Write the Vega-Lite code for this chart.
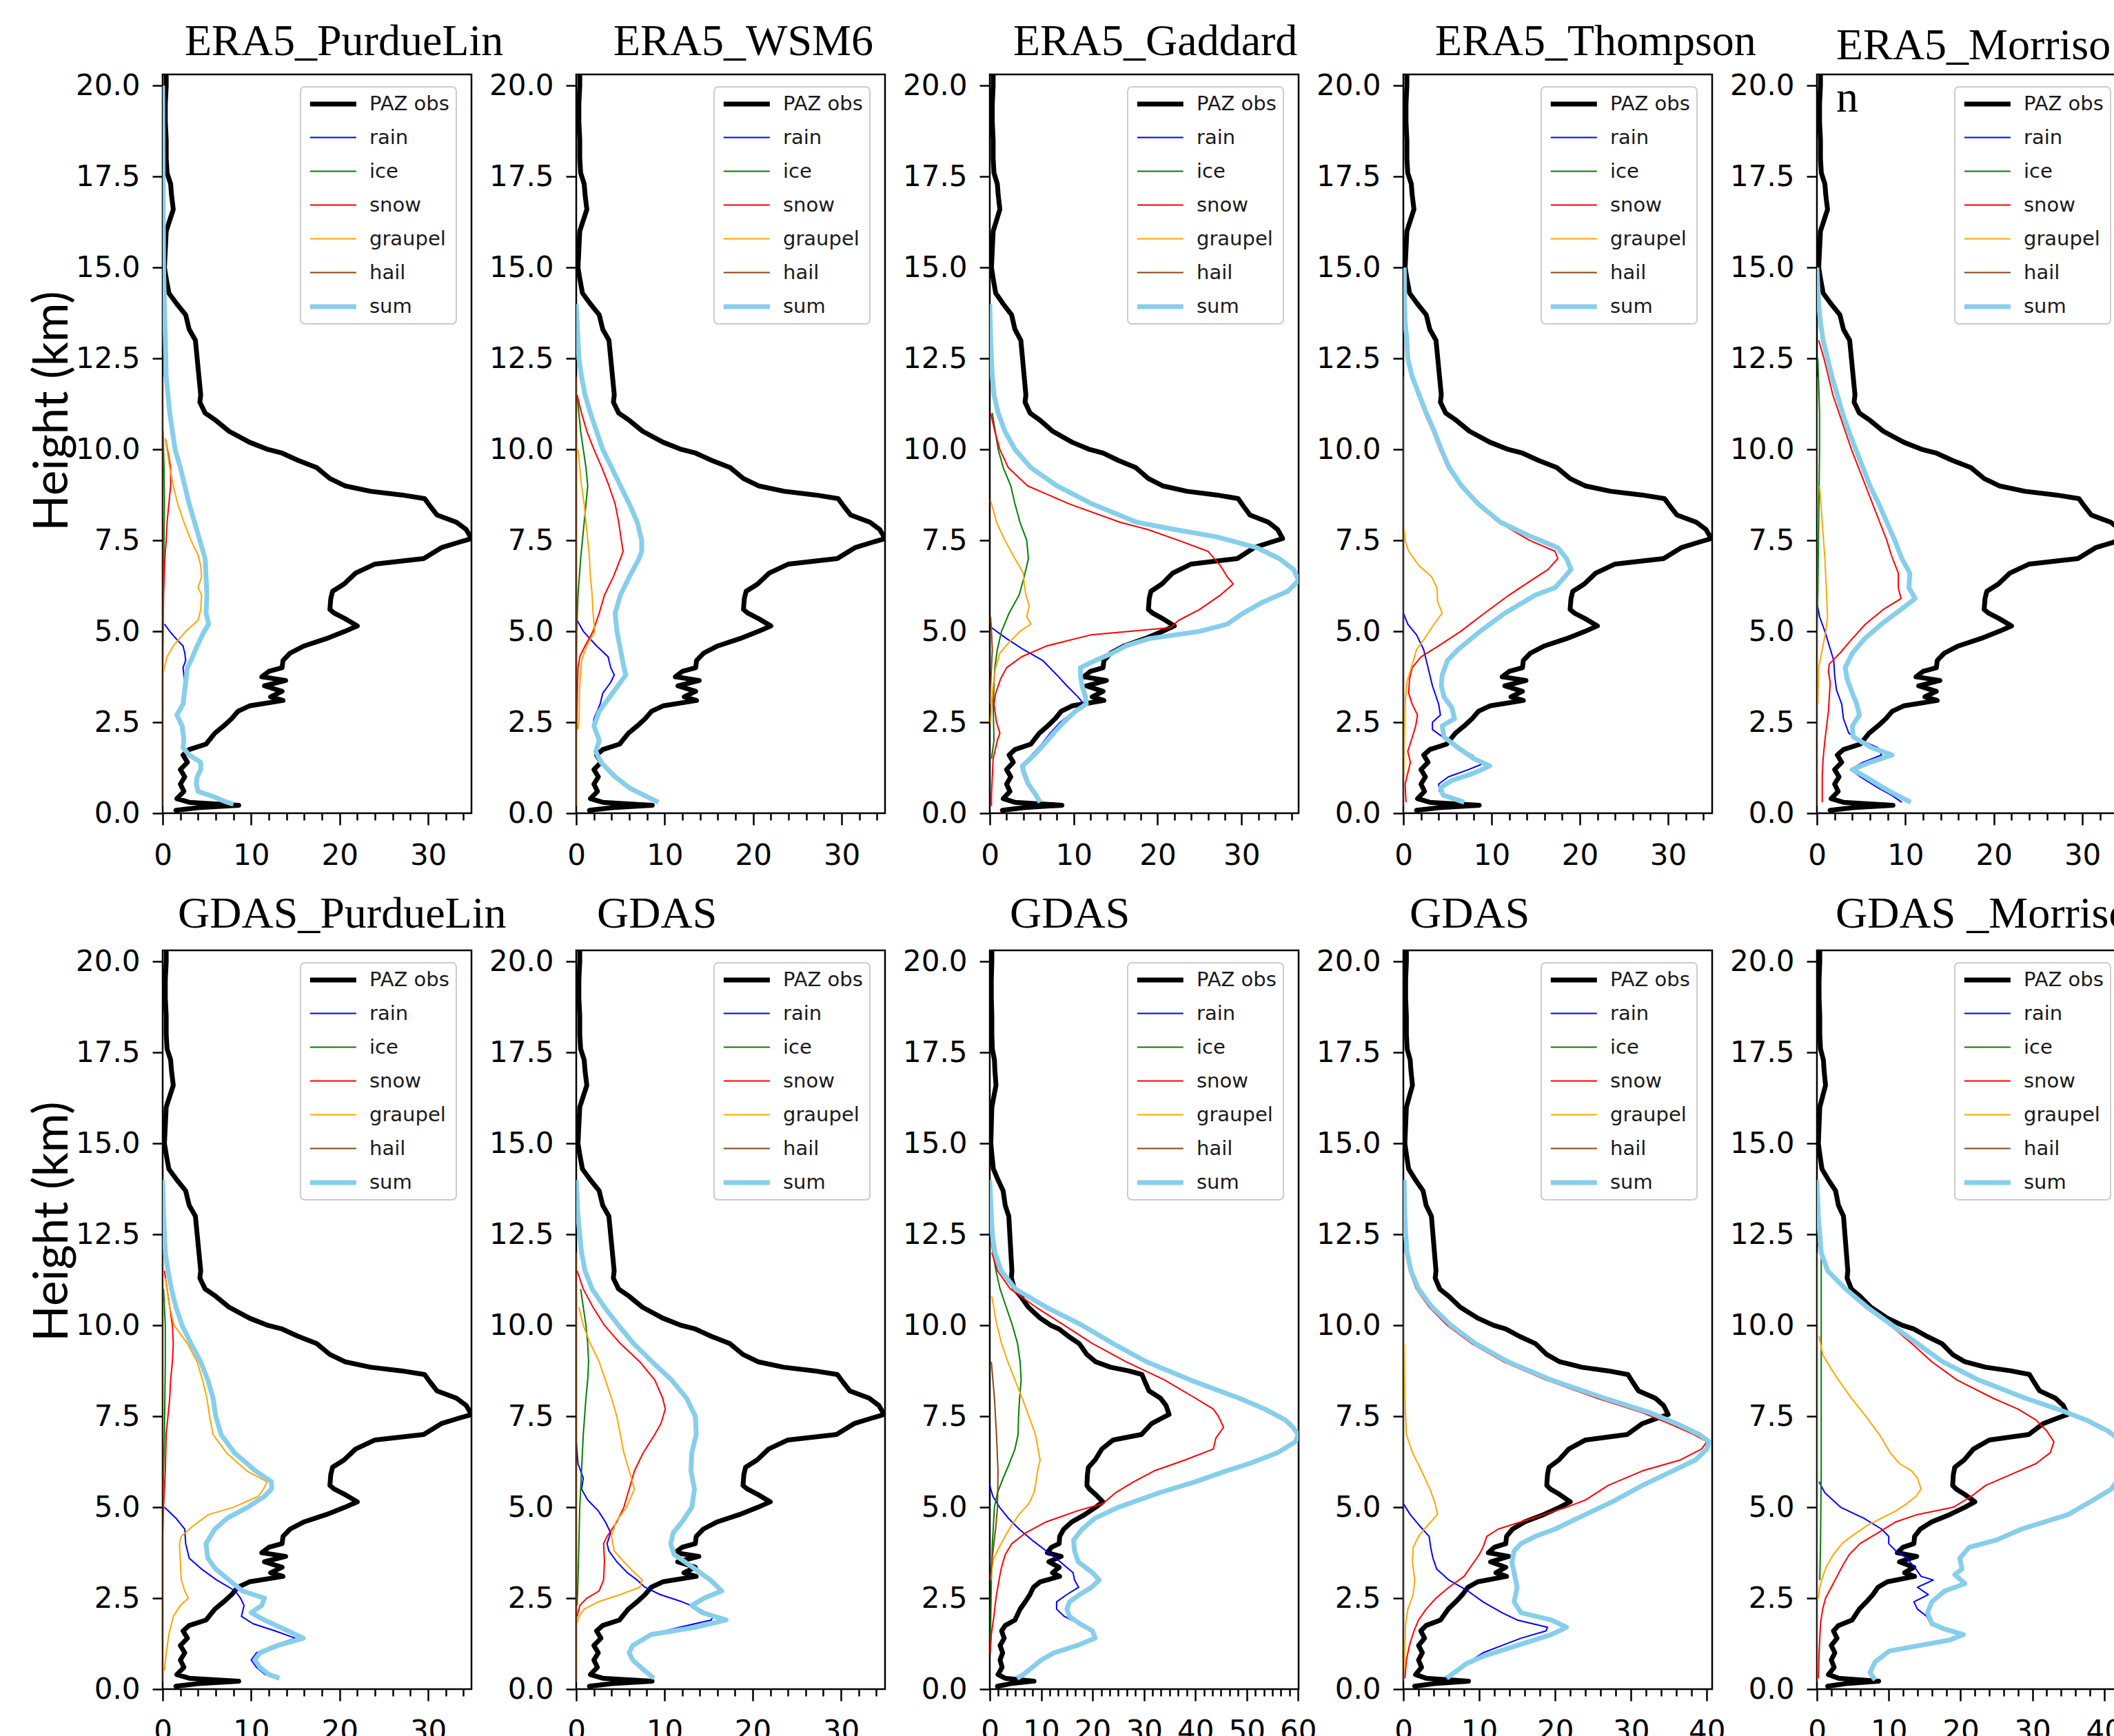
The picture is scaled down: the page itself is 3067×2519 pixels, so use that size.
{
"$schema": "https://vega.github.io/schema/vega-lite/v6.json",
"padding": {"left": 40, "top": 28, "right": 0, "bottom": 0},
"background": "white",
"datasets": {
"obs": [
{"s":"PAZ obs","h":20.3,"v":0.4},{"s":"PAZ obs","h":20.0,"v":0.4},{"s":"PAZ obs","h":19.5,"v":0.3},{"s":"PAZ obs","h":19.0,"v":0.3},{"s":"PAZ obs","h":18.5,"v":0.4},{"s":"PAZ obs","h":18.0,"v":0.4},{"s":"PAZ obs","h":17.6,"v":0.5},{"s":"PAZ obs","h":17.3,"v":0.9},{"s":"PAZ obs","h":17.0,"v":1.0},{"s":"PAZ obs","h":16.6,"v":1.2},{"s":"PAZ obs","h":16.3,"v":0.8},{"s":"PAZ obs","h":16.0,"v":0.4},{"s":"PAZ obs","h":15.5,"v":0.3},{"s":"PAZ obs","h":15.0,"v":0.2},{"s":"PAZ obs","h":14.7,"v":0.4},{"s":"PAZ obs","h":14.3,"v":0.7},{"s":"PAZ obs","h":14.0,"v":1.6},{"s":"PAZ obs","h":13.7,"v":2.6},{"s":"PAZ obs","h":13.3,"v":3.0},{"s":"PAZ obs","h":13.0,"v":3.7},{"s":"PAZ obs","h":12.5,"v":3.9},{"s":"PAZ obs","h":12.0,"v":4.1},{"s":"PAZ obs","h":11.5,"v":4.3},{"s":"PAZ obs","h":11.3,"v":4.2},{"s":"PAZ obs","h":11.0,"v":4.8},{"s":"PAZ obs","h":10.8,"v":6.0},{"s":"PAZ obs","h":10.5,"v":7.5},{"s":"PAZ obs","h":10.2,"v":9.8},{"s":"PAZ obs","h":10.0,"v":11.9},{"s":"PAZ obs","h":9.9,"v":13.5},{"s":"PAZ obs","h":9.7,"v":15.3},{"s":"PAZ obs","h":9.5,"v":17.4},{"s":"PAZ obs","h":9.2,"v":18.9},{"s":"PAZ obs","h":9.0,"v":20.6},{"s":"PAZ obs","h":8.85,"v":23.5},{"s":"PAZ obs","h":8.75,"v":27.0},{"s":"PAZ obs","h":8.65,"v":29.6},{"s":"PAZ obs","h":8.45,"v":30.2},{"s":"PAZ obs","h":8.2,"v":31.0},{"s":"PAZ obs","h":8.0,"v":33.2},{"s":"PAZ obs","h":7.8,"v":34.3},{"s":"PAZ obs","h":7.55,"v":34.9},{"s":"PAZ obs","h":7.45,"v":33.5},{"s":"PAZ obs","h":7.3,"v":31.5},{"s":"PAZ obs","h":7.0,"v":29.5},{"s":"PAZ obs","h":6.85,"v":24.0},{"s":"PAZ obs","h":6.6,"v":21.8},{"s":"PAZ obs","h":6.3,"v":20.5},{"s":"PAZ obs","h":6.1,"v":19.2},{"s":"PAZ obs","h":5.9,"v":19.0},{"s":"PAZ obs","h":5.6,"v":18.9},{"s":"PAZ obs","h":5.5,"v":19.4},{"s":"PAZ obs","h":5.35,"v":20.6},{"s":"PAZ obs","h":5.15,"v":22.0},{"s":"PAZ obs","h":5.0,"v":20.6},{"s":"PAZ obs","h":4.8,"v":18.5},{"s":"PAZ obs","h":4.6,"v":16.0},{"s":"PAZ obs","h":4.4,"v":14.4},{"s":"PAZ obs","h":4.2,"v":13.6},{"s":"PAZ obs","h":4.0,"v":13.5},{"s":"PAZ obs","h":3.9,"v":12.0},{"s":"PAZ obs","h":3.75,"v":11.2},{"s":"PAZ obs","h":3.65,"v":13.9},{"s":"PAZ obs","h":3.5,"v":11.5},{"s":"PAZ obs","h":3.35,"v":13.5},{"s":"PAZ obs","h":3.2,"v":12.2},{"s":"PAZ obs","h":3.1,"v":13.6},{"s":"PAZ obs","h":2.95,"v":9.8},{"s":"PAZ obs","h":2.8,"v":8.5},{"s":"PAZ obs","h":2.6,"v":7.8},{"s":"PAZ obs","h":2.4,"v":6.9},{"s":"PAZ obs","h":2.2,"v":5.9},{"s":"PAZ obs","h":1.9,"v":4.9},{"s":"PAZ obs","h":1.75,"v":3.0},{"s":"PAZ obs","h":1.6,"v":2.3},{"s":"PAZ obs","h":1.4,"v":2.8},{"s":"PAZ obs","h":1.2,"v":2.0},{"s":"PAZ obs","h":1.0,"v":2.5},{"s":"PAZ obs","h":0.8,"v":2.0},{"s":"PAZ obs","h":0.6,"v":2.4},{"s":"PAZ obs","h":0.4,"v":1.6},{"s":"PAZ obs","h":0.3,"v":3.0},{"s":"PAZ obs","h":0.22,"v":8.6},{"s":"PAZ obs","h":0.15,"v":4.0},{"s":"PAZ obs","h":0.08,"v":1.5},{"s":"PAZ obs","h":0.02,"v":1.8}
],
"e1": [
{"s":"rain","h":5.2,"v":0.2},{"s":"rain","h":5.0,"v":0.8},{"s":"rain","h":4.8,"v":1.5},{"s":"rain","h":4.6,"v":2.3},{"s":"rain","h":4.4,"v":2.5},{"s":"rain","h":4.2,"v":2.6},{"s":"rain","h":4.0,"v":2.3},{"s":"rain","h":3.6,"v":2.5},{"s":"rain","h":3.0,"v":2.2},{"s":"rain","h":2.7,"v":1.5},{"s":"rain","h":2.4,"v":2.1},{"s":"rain","h":2.0,"v":2.3},{"s":"rain","h":1.8,"v":2.2},{"s":"rain","h":1.6,"v":2.9},{"s":"rain","h":1.4,"v":4.2},{"s":"rain","h":1.2,"v":4.2},{"s":"rain","h":1.0,"v":3.8},{"s":"rain","h":0.8,"v":3.7},{"s":"rain","h":0.6,"v":3.9},{"s":"rain","h":0.45,"v":5.7},{"s":"rain","h":0.3,"v":7.2},{"s":"rain","h":0.25,"v":7.9},
{"s":"ice","h":10.5,"v":0.05},{"s":"ice","h":9.5,"v":0.15},{"s":"ice","h":8.5,"v":0.2},{"s":"ice","h":7.5,"v":0.15},{"s":"ice","h":6.5,"v":0.1},{"s":"ice","h":5.5,"v":0.05},{"s":"ice","h":4.5,"v":0},
{"s":"snow","h":10.3,"v":0.3},{"s":"snow","h":9.8,"v":0.7},{"s":"snow","h":9.5,"v":0.9},{"s":"snow","h":9.0,"v":0.9},{"s":"snow","h":8.5,"v":0.7},{"s":"snow","h":8.0,"v":0.5},{"s":"snow","h":7.5,"v":0.4},{"s":"snow","h":7.0,"v":0.25},{"s":"snow","h":6.0,"v":0.1},{"s":"snow","h":5.0,"v":0.05},{"s":"snow","h":4.0,"v":0},
{"s":"graupel","h":10.3,"v":0.3},{"s":"graupel","h":9.5,"v":0.8},{"s":"graupel","h":9.0,"v":1.2},{"s":"graupel","h":8.5,"v":1.7},{"s":"graupel","h":8.0,"v":2.4},{"s":"graupel","h":7.5,"v":3.2},{"s":"graupel","h":7.1,"v":4.0},{"s":"graupel","h":6.8,"v":4.3},{"s":"graupel","h":6.5,"v":4.4},{"s":"graupel","h":6.2,"v":4.0},{"s":"graupel","h":6.0,"v":4.4},{"s":"graupel","h":5.6,"v":4.3},{"s":"graupel","h":5.3,"v":4.0},{"s":"graupel","h":5.0,"v":2.6},{"s":"graupel","h":4.6,"v":1.2},{"s":"graupel","h":4.3,"v":0.5},{"s":"graupel","h":4.0,"v":0.2},{"s":"graupel","h":3.8,"v":0},
{"s":"hail","h":12,"v":0},{"s":"hail","h":0.2,"v":0},
{"s":"sum","h":20,"v":0},{"s":"sum","h":15,"v":0.1},{"s":"sum","h":13,"v":0.3},{"s":"sum","h":12,"v":0.4},{"s":"sum","h":11,"v":0.8},{"s":"sum","h":10,"v":1.4},{"s":"sum","h":9.5,"v":2.0},{"s":"sum","h":9.0,"v":2.5},{"s":"sum","h":8.5,"v":3.0},{"s":"sum","h":8.0,"v":3.6},{"s":"sum","h":7.5,"v":4.2},{"s":"sum","h":7.0,"v":4.8},{"s":"sum","h":6.5,"v":4.9},{"s":"sum","h":6.0,"v":5.0},{"s":"sum","h":5.5,"v":4.9},{"s":"sum","h":5.2,"v":5.2},{"s":"sum","h":5.0,"v":4.7},{"s":"sum","h":4.6,"v":3.9},{"s":"sum","h":4.2,"v":3.2},{"s":"sum","h":4.0,"v":2.8},{"s":"sum","h":3.6,"v":2.6},{"s":"sum","h":3.0,"v":2.3},{"s":"sum","h":2.7,"v":1.6},{"s":"sum","h":2.4,"v":2.2},{"s":"sum","h":2.0,"v":2.4},{"s":"sum","h":1.8,"v":2.3},{"s":"sum","h":1.6,"v":3.0},{"s":"sum","h":1.4,"v":4.3},{"s":"sum","h":1.2,"v":4.3},{"s":"sum","h":1.0,"v":3.9},{"s":"sum","h":0.8,"v":3.8},{"s":"sum","h":0.6,"v":4.0},{"s":"sum","h":0.45,"v":5.8},{"s":"sum","h":0.3,"v":7.3},{"s":"sum","h":0.25,"v":8.0}
],
"e2": [
{"s":"rain","h":5.3,"v":0.1},{"s":"rain","h":5.0,"v":0.8},{"s":"rain","h":4.6,"v":2.3},{"s":"rain","h":4.3,"v":3.6},{"s":"rain","h":4.0,"v":3.9},{"s":"rain","h":3.8,"v":4.3},{"s":"rain","h":3.6,"v":3.9},{"s":"rain","h":3.3,"v":3.0},{"s":"rain","h":3.0,"v":2.7},{"s":"rain","h":2.6,"v":2.0},{"s":"rain","h":2.4,"v":1.9},{"s":"rain","h":2.0,"v":2.5},{"s":"rain","h":1.7,"v":2.1},{"s":"rain","h":1.4,"v":2.7},{"s":"rain","h":1.0,"v":4.3},{"s":"rain","h":0.7,"v":5.9},{"s":"rain","h":0.5,"v":7.5},{"s":"rain","h":0.3,"v":9.2},
{"s":"ice","h":11.5,"v":0.1},{"s":"ice","h":10.5,"v":0.5},{"s":"ice","h":10.0,"v":0.8},{"s":"ice","h":9.5,"v":1.1},{"s":"ice","h":9.0,"v":1.3},{"s":"ice","h":8.5,"v":1.1},{"s":"ice","h":8.0,"v":0.9},{"s":"ice","h":7.5,"v":0.7},{"s":"ice","h":7.0,"v":0.5},{"s":"ice","h":6.0,"v":0.2},{"s":"ice","h":5.0,"v":0.05},{"s":"ice","h":4.0,"v":0},
{"s":"snow","h":11.5,"v":0.1},{"s":"snow","h":11.0,"v":0.6},{"s":"snow","h":10.5,"v":1.2},{"s":"snow","h":10.0,"v":2.0},{"s":"snow","h":9.5,"v":2.9},{"s":"snow","h":9.0,"v":3.7},{"s":"snow","h":8.5,"v":4.4},{"s":"snow","h":8.0,"v":4.8},{"s":"snow","h":7.5,"v":5.1},{"s":"snow","h":7.2,"v":5.3},{"s":"snow","h":7.0,"v":5.0},{"s":"snow","h":6.5,"v":4.2},{"s":"snow","h":6.0,"v":3.2},{"s":"snow","h":5.5,"v":2.6},{"s":"snow","h":5.0,"v":1.9},{"s":"snow","h":4.6,"v":1.0},{"s":"snow","h":4.3,"v":0.4},{"s":"snow","h":4.0,"v":0.2},{"s":"snow","h":3.0,"v":0.1},{"s":"snow","h":2.3,"v":0.05},
{"s":"graupel","h":10.0,"v":0.2},{"s":"graupel","h":9.5,"v":0.4},{"s":"graupel","h":9.0,"v":0.6},{"s":"graupel","h":8.5,"v":0.9},{"s":"graupel","h":8.0,"v":1.1},{"s":"graupel","h":7.5,"v":1.3},{"s":"graupel","h":7.0,"v":1.5},{"s":"graupel","h":6.5,"v":1.6},{"s":"graupel","h":6.0,"v":1.8},{"s":"graupel","h":5.5,"v":1.9},{"s":"graupel","h":5.0,"v":2.1},{"s":"graupel","h":4.6,"v":1.2},{"s":"graupel","h":4.2,"v":0.6},{"s":"graupel","h":3.5,"v":0.4},{"s":"graupel","h":3.0,"v":0.35},{"s":"graupel","h":2.5,"v":0.3},{"s":"graupel","h":2.3,"v":0.2},
{"s":"hail","h":12,"v":0},{"s":"hail","h":0.2,"v":0},
{"s":"sum","h":14,"v":0},{"s":"sum","h":13.5,"v":0.1},{"s":"sum","h":12.5,"v":0.3},{"s":"sum","h":12.0,"v":0.6},{"s":"sum","h":11.5,"v":1.0},{"s":"sum","h":11.0,"v":1.6},{"s":"sum","h":10.5,"v":2.3},{"s":"sum","h":10.0,"v":3.0},{"s":"sum","h":9.5,"v":4.0},{"s":"sum","h":9.0,"v":5.0},{"s":"sum","h":8.5,"v":6.0},{"s":"sum","h":8.0,"v":6.9},{"s":"sum","h":7.5,"v":7.4},{"s":"sum","h":7.2,"v":7.4},{"s":"sum","h":7.0,"v":7.1},{"s":"sum","h":6.5,"v":6.0},{"s":"sum","h":6.0,"v":5.0},{"s":"sum","h":5.5,"v":4.4},{"s":"sum","h":5.0,"v":4.6},{"s":"sum","h":4.5,"v":5.0},{"s":"sum","h":4.0,"v":5.4},{"s":"sum","h":3.8,"v":5.6},{"s":"sum","h":3.6,"v":5.0},{"s":"sum","h":3.2,"v":3.8},{"s":"sum","h":2.8,"v":2.6},{"s":"sum","h":2.4,"v":2.0},{"s":"sum","h":2.0,"v":2.6},{"s":"sum","h":1.7,"v":2.2},{"s":"sum","h":1.4,"v":2.8},{"s":"sum","h":1.0,"v":4.4},{"s":"sum","h":0.7,"v":6.0},{"s":"sum","h":0.5,"v":7.6},{"s":"sum","h":0.3,"v":9.3}
],
"e3": [
{"s":"rain","h":5.1,"v":0.2},{"s":"rain","h":4.8,"v":2.0},{"s":"rain","h":4.5,"v":4.0},{"s":"rain","h":4.2,"v":6.3},{"s":"rain","h":3.8,"v":8.0},{"s":"rain","h":3.5,"v":9.2},{"s":"rain","h":3.2,"v":10.5},{"s":"rain","h":3.0,"v":11.2},{"s":"rain","h":2.8,"v":10.0},{"s":"rain","h":2.5,"v":8.4},{"s":"rain","h":2.2,"v":7.2},{"s":"rain","h":1.9,"v":6.2},{"s":"rain","h":1.6,"v":5.0},{"s":"rain","h":1.3,"v":3.7},{"s":"rain","h":1.1,"v":3.9},{"s":"rain","h":0.8,"v":4.4},{"s":"rain","h":0.5,"v":5.3},{"s":"rain","h":0.3,"v":5.8},
{"s":"ice","h":11,"v":0.3},{"s":"ice","h":10,"v":1.0},{"s":"ice","h":9.5,"v":1.6},{"s":"ice","h":9.0,"v":2.5},{"s":"ice","h":8.5,"v":3.0},{"s":"ice","h":8.0,"v":3.6},{"s":"ice","h":7.5,"v":4.4},{"s":"ice","h":7.0,"v":4.6},{"s":"ice","h":6.5,"v":4.1},{"s":"ice","h":6.0,"v":3.5},{"s":"ice","h":5.5,"v":2.3},{"s":"ice","h":5.0,"v":1.4},{"s":"ice","h":4.5,"v":0.9},{"s":"ice","h":4.0,"v":0.6},{"s":"ice","h":3.0,"v":0.4},{"s":"ice","h":2.0,"v":0.5},{"s":"ice","h":1.5,"v":0.2},
{"s":"snow","h":11,"v":0.1},{"s":"snow","h":10.5,"v":0.6},{"s":"snow","h":10,"v":1.2},{"s":"snow","h":9.5,"v":2.2},{"s":"snow","h":9.0,"v":4.5},{"s":"snow","h":8.5,"v":9.5},{"s":"snow","h":8.0,"v":15.5},{"s":"snow","h":7.8,"v":18.8},{"s":"snow","h":7.5,"v":22.5},{"s":"snow","h":7.2,"v":26.0},{"s":"snow","h":6.8,"v":27.5},{"s":"snow","h":6.5,"v":28.3},{"s":"snow","h":6.3,"v":29.0},{"s":"snow","h":6.0,"v":27.5},{"s":"snow","h":5.6,"v":25.0},{"s":"snow","h":5.3,"v":22.5},{"s":"snow","h":5.1,"v":21.5},{"s":"snow","h":4.9,"v":12.0},{"s":"snow","h":4.6,"v":6.8},{"s":"snow","h":4.3,"v":3.8},{"s":"snow","h":4.0,"v":2.0},{"s":"snow","h":3.7,"v":1.3},{"s":"snow","h":3.3,"v":0.7},{"s":"snow","h":3.0,"v":0.5},{"s":"snow","h":2.5,"v":0.8},{"s":"snow","h":2.2,"v":1.2},{"s":"snow","h":2.0,"v":0.9},{"s":"snow","h":1.5,"v":0.4},{"s":"snow","h":0.5,"v":0.2},{"s":"snow","h":0.2,"v":0.2},
{"s":"graupel","h":8.6,"v":0.1},{"s":"graupel","h":8.0,"v":0.8},{"s":"graupel","h":7.5,"v":1.8},{"s":"graupel","h":7.0,"v":3.0},{"s":"graupel","h":6.6,"v":4.0},{"s":"graupel","h":6.3,"v":4.1},{"s":"graupel","h":6.0,"v":4.3},{"s":"graupel","h":5.7,"v":4.7},{"s":"graupel","h":5.4,"v":4.4},{"s":"graupel","h":5.2,"v":4.9},{"s":"graupel","h":5.0,"v":3.6},{"s":"graupel","h":4.7,"v":2.3},{"s":"graupel","h":4.4,"v":1.2},{"s":"graupel","h":4.0,"v":0.7},{"s":"graupel","h":3.5,"v":0.4},{"s":"graupel","h":3.0,"v":0.2},{"s":"graupel","h":2.5,"v":0.1},
{"s":"hail","h":5.4,"v":0.1},{"s":"hail","h":5.0,"v":0.2},{"s":"hail","h":4.5,"v":0.3},{"s":"hail","h":4.0,"v":0.2},{"s":"hail","h":3.5,"v":0.1},{"s":"hail","h":3.0,"v":0},
{"s":"sum","h":14,"v":0},{"s":"sum","h":13,"v":0.1},{"s":"sum","h":12,"v":0.3},{"s":"sum","h":11.5,"v":0.5},{"s":"sum","h":11,"v":1.0},{"s":"sum","h":10.5,"v":1.8},{"s":"sum","h":10,"v":3.0},{"s":"sum","h":9.5,"v":4.9},{"s":"sum","h":9.0,"v":8.0},{"s":"sum","h":8.5,"v":12.2},{"s":"sum","h":8.0,"v":17.5},{"s":"sum","h":7.8,"v":22.0},{"s":"sum","h":7.6,"v":27.0},{"s":"sum","h":7.3,"v":31.8},{"s":"sum","h":7.0,"v":34.5},{"s":"sum","h":6.7,"v":36.2},{"s":"sum","h":6.4,"v":36.8},{"s":"sum","h":6.1,"v":35.5},{"s":"sum","h":5.8,"v":32.5},{"s":"sum","h":5.5,"v":30.2},{"s":"sum","h":5.2,"v":28.3},{"s":"sum","h":5.0,"v":25.0},{"s":"sum","h":4.8,"v":19.0},{"s":"sum","h":4.6,"v":16.2},{"s":"sum","h":4.4,"v":14.6},{"s":"sum","h":4.2,"v":12.6},{"s":"sum","h":4.0,"v":10.8},{"s":"sum","h":3.8,"v":10.8},{"s":"sum","h":3.5,"v":11.0},{"s":"sum","h":3.2,"v":11.4},{"s":"sum","h":3.0,"v":11.5},{"s":"sum","h":2.8,"v":10.2},{"s":"sum","h":2.5,"v":8.8},{"s":"sum","h":2.2,"v":7.6},{"s":"sum","h":1.9,"v":6.5},{"s":"sum","h":1.6,"v":5.3},{"s":"sum","h":1.3,"v":3.9},{"s":"sum","h":1.1,"v":4.1},{"s":"sum","h":0.8,"v":4.6},{"s":"sum","h":0.5,"v":5.5},{"s":"sum","h":0.3,"v":6.0}
],
"e4": [
{"s":"rain","h":5.5,"v":0},{"s":"rain","h":5.2,"v":0.5},{"s":"rain","h":4.9,"v":1.5},{"s":"rain","h":4.5,"v":2.3},{"s":"rain","h":4.0,"v":2.8},{"s":"rain","h":3.5,"v":3.3},{"s":"rain","h":3.0,"v":4.0},{"s":"rain","h":2.7,"v":4.2},{"s":"rain","h":2.5,"v":3.3},{"s":"rain","h":2.3,"v":3.3},{"s":"rain","h":2.0,"v":5.0},{"s":"rain","h":1.8,"v":6.1},{"s":"rain","h":1.6,"v":7.8},{"s":"rain","h":1.35,"v":8.9},{"s":"rain","h":1.2,"v":7.4},{"s":"rain","h":1.0,"v":5.1},{"s":"rain","h":0.8,"v":4.0},{"s":"rain","h":0.6,"v":4.1},{"s":"rain","h":0.4,"v":5.4},{"s":"rain","h":0.3,"v":6.6},
{"s":"ice","h":12,"v":0},{"s":"ice","h":0.2,"v":0},
{"s":"snow","h":13.5,"v":0.1},{"s":"snow","h":13,"v":0.3},{"s":"snow","h":12.5,"v":0.4},{"s":"snow","h":12,"v":0.9},{"s":"snow","h":11.5,"v":1.6},{"s":"snow","h":11,"v":2.4},{"s":"snow","h":10.5,"v":3.3},{"s":"snow","h":10,"v":4.1},{"s":"snow","h":9.5,"v":5.0},{"s":"snow","h":9.0,"v":6.4},{"s":"snow","h":8.5,"v":8.3},{"s":"snow","h":8.0,"v":10.8},{"s":"snow","h":7.5,"v":14.3},{"s":"snow","h":7.2,"v":17.2},{"s":"snow","h":7.0,"v":17.5},{"s":"snow","h":6.7,"v":16.4},{"s":"snow","h":6.4,"v":14.5},{"s":"snow","h":6.0,"v":12.0},{"s":"snow","h":5.5,"v":9.2},{"s":"snow","h":5.0,"v":6.5},{"s":"snow","h":4.6,"v":4.0},{"s":"snow","h":4.3,"v":2.0},{"s":"snow","h":4.0,"v":1.0},{"s":"snow","h":3.7,"v":0.7},{"s":"snow","h":3.3,"v":0.6},{"s":"snow","h":3.0,"v":1.0},{"s":"snow","h":2.7,"v":1.6},{"s":"snow","h":2.4,"v":1.4},{"s":"snow","h":2.0,"v":0.9},{"s":"snow","h":1.7,"v":0.5},{"s":"snow","h":1.4,"v":0.8},{"s":"snow","h":1.2,"v":0.6},{"s":"snow","h":0.8,"v":0.2},{"s":"snow","h":0.3,"v":0.3},
{"s":"graupel","h":7.8,"v":0.1},{"s":"graupel","h":7.5,"v":0.2},{"s":"graupel","h":7.2,"v":0.6},{"s":"graupel","h":6.8,"v":1.8},{"s":"graupel","h":6.5,"v":3.2},{"s":"graupel","h":6.2,"v":3.8},{"s":"graupel","h":5.8,"v":3.9},{"s":"graupel","h":5.5,"v":4.4},{"s":"graupel","h":5.2,"v":3.5},{"s":"graupel","h":4.8,"v":2.4},{"s":"graupel","h":4.5,"v":1.5},{"s":"graupel","h":4.0,"v":0.9},{"s":"graupel","h":3.6,"v":0.4},{"s":"graupel","h":3.0,"v":0.2},{"s":"graupel","h":2.0,"v":0.1},{"s":"graupel","h":1.0,"v":0.05},
{"s":"hail","h":12,"v":0},{"s":"hail","h":0.2,"v":0},
{"s":"sum","h":15,"v":0.1},{"s":"sum","h":14,"v":0.15},{"s":"sum","h":13.5,"v":0.2},{"s":"sum","h":13,"v":0.4},{"s":"sum","h":12.5,"v":0.5},{"s":"sum","h":12,"v":1.0},{"s":"sum","h":11.5,"v":1.8},{"s":"sum","h":11,"v":2.6},{"s":"sum","h":10.5,"v":3.5},{"s":"sum","h":10,"v":4.3},{"s":"sum","h":9.5,"v":5.2},{"s":"sum","h":9.0,"v":6.6},{"s":"sum","h":8.5,"v":8.5},{"s":"sum","h":8.0,"v":11.0},{"s":"sum","h":7.6,"v":14.5},{"s":"sum","h":7.3,"v":17.5},{"s":"sum","h":7.0,"v":18.5},{"s":"sum","h":6.7,"v":19.0},{"s":"sum","h":6.5,"v":18.3},{"s":"sum","h":6.2,"v":17.2},{"s":"sum","h":6.0,"v":15.0},{"s":"sum","h":5.5,"v":11.5},{"s":"sum","h":5.0,"v":8.7},{"s":"sum","h":4.5,"v":6.2},{"s":"sum","h":4.2,"v":5.0},{"s":"sum","h":3.8,"v":4.4},{"s":"sum","h":3.5,"v":4.3},{"s":"sum","h":3.2,"v":4.6},{"s":"sum","h":2.9,"v":5.5},{"s":"sum","h":2.6,"v":5.8},{"s":"sum","h":2.4,"v":4.4},{"s":"sum","h":2.1,"v":4.6},{"s":"sum","h":1.8,"v":6.2},{"s":"sum","h":1.5,"v":8.0},{"s":"sum","h":1.3,"v":9.8},{"s":"sum","h":1.1,"v":8.0},{"s":"sum","h":0.9,"v":5.5},{"s":"sum","h":0.7,"v":4.2},{"s":"sum","h":0.5,"v":4.5},{"s":"sum","h":0.3,"v":6.9}
],
"e5": [
{"s":"rain","h":5.8,"v":0},{"s":"rain","h":5.4,"v":0.3},{"s":"rain","h":5.0,"v":0.9},{"s":"rain","h":4.6,"v":1.4},{"s":"rain","h":4.2,"v":1.9},{"s":"rain","h":3.8,"v":2.0},{"s":"rain","h":3.4,"v":2.2},{"s":"rain","h":3.0,"v":2.8},{"s":"rain","h":2.6,"v":3.0},{"s":"rain","h":2.2,"v":3.6},{"s":"rain","h":2.0,"v":5.0},{"s":"rain","h":1.8,"v":6.9},{"s":"rain","h":1.6,"v":7.3},{"s":"rain","h":1.4,"v":5.2},{"s":"rain","h":1.2,"v":3.8},{"s":"rain","h":1.0,"v":4.9},{"s":"rain","h":0.7,"v":6.9},{"s":"rain","h":0.5,"v":8.4},{"s":"rain","h":0.3,"v":9.6},
{"s":"ice","h":12.5,"v":0.1},{"s":"ice","h":11,"v":0.3},{"s":"ice","h":10,"v":0.3},{"s":"ice","h":8,"v":0.2},{"s":"ice","h":6,"v":0.1},{"s":"ice","h":5,"v":0},
{"s":"snow","h":13,"v":0.2},{"s":"snow","h":12.5,"v":0.8},{"s":"snow","h":12,"v":1.3},{"s":"snow","h":11.5,"v":1.8},{"s":"snow","h":11,"v":2.5},{"s":"snow","h":10.5,"v":3.2},{"s":"snow","h":10,"v":3.9},{"s":"snow","h":9.5,"v":4.7},{"s":"snow","h":9.0,"v":5.5},{"s":"snow","h":8.5,"v":6.3},{"s":"snow","h":8.0,"v":7.1},{"s":"snow","h":7.5,"v":7.9},{"s":"snow","h":7.1,"v":8.4},{"s":"snow","h":6.6,"v":9.2},{"s":"snow","h":6.2,"v":9.2},{"s":"snow","h":5.9,"v":9.5},{"s":"snow","h":5.6,"v":7.5},{"s":"snow","h":5.2,"v":5.5},{"s":"snow","h":4.8,"v":4.0},{"s":"snow","h":4.4,"v":2.6},{"s":"snow","h":4.1,"v":1.4},{"s":"snow","h":3.9,"v":1.3},{"s":"snow","h":3.6,"v":1.5},{"s":"snow","h":3.2,"v":1.4},{"s":"snow","h":2.8,"v":1.3},{"s":"snow","h":2.4,"v":1.1},{"s":"snow","h":2.0,"v":0.9},{"s":"snow","h":1.5,"v":0.7},{"s":"snow","h":1.0,"v":0.6},{"s":"snow","h":0.3,"v":0.6},
{"s":"graupel","h":9,"v":0.3},{"s":"graupel","h":8,"v":0.6},{"s":"graupel","h":7,"v":0.9},{"s":"graupel","h":6,"v":1.1},{"s":"graupel","h":5.4,"v":1.2},{"s":"graupel","h":5.0,"v":1.0},{"s":"graupel","h":4.5,"v":0.6},{"s":"graupel","h":4.0,"v":0.2},{"s":"graupel","h":3.0,"v":0.1},
{"s":"hail","h":12,"v":0},{"s":"hail","h":0.2,"v":0},
{"s":"sum","h":15,"v":0},{"s":"sum","h":14,"v":0.2},{"s":"sum","h":13.5,"v":0.4},{"s":"sum","h":13,"v":0.7},{"s":"sum","h":12.5,"v":1.2},{"s":"sum","h":12,"v":1.7},{"s":"sum","h":11.5,"v":2.3},{"s":"sum","h":11,"v":2.9},{"s":"sum","h":10.5,"v":3.6},{"s":"sum","h":10,"v":4.4},{"s":"sum","h":9.5,"v":5.2},{"s":"sum","h":9.0,"v":6.0},{"s":"sum","h":8.5,"v":7.0},{"s":"sum","h":8.0,"v":7.9},{"s":"sum","h":7.5,"v":8.8},{"s":"sum","h":7.0,"v":9.6},{"s":"sum","h":6.6,"v":10.5},{"s":"sum","h":6.2,"v":10.4},{"s":"sum","h":5.9,"v":11.1},{"s":"sum","h":5.6,"v":9.5},{"s":"sum","h":5.2,"v":7.3},{"s":"sum","h":4.8,"v":5.4},{"s":"sum","h":4.4,"v":4.0},{"s":"sum","h":4.0,"v":3.2},{"s":"sum","h":3.7,"v":3.4},{"s":"sum","h":3.3,"v":4.0},{"s":"sum","h":3.0,"v":4.5},{"s":"sum","h":2.7,"v":4.8},{"s":"sum","h":2.4,"v":4.0},{"s":"sum","h":2.1,"v":4.1},{"s":"sum","h":1.8,"v":6.2},{"s":"sum","h":1.6,"v":8.5},{"s":"sum","h":1.4,"v":6.0},{"s":"sum","h":1.2,"v":4.0},{"s":"sum","h":1.0,"v":5.5},{"s":"sum","h":0.7,"v":7.5},{"s":"sum","h":0.5,"v":9.0},{"s":"sum","h":0.3,"v":10.6}
],
"g1": [
{"s":"rain","h":5.0,"v":0.2},{"s":"rain","h":4.7,"v":1.5},{"s":"rain","h":4.4,"v":2.5},{"s":"rain","h":4.0,"v":2.6},{"s":"rain","h":3.6,"v":3.0},{"s":"rain","h":3.3,"v":4.4},{"s":"rain","h":3.0,"v":6.1},{"s":"rain","h":2.7,"v":8.2},{"s":"rain","h":2.5,"v":8.8},{"s":"rain","h":2.3,"v":9.2},{"s":"rain","h":2.0,"v":8.9},{"s":"rain","h":1.8,"v":10.2},{"s":"rain","h":1.6,"v":12.7},{"s":"rain","h":1.4,"v":15.0},{"s":"rain","h":1.2,"v":12.5},{"s":"rain","h":1.0,"v":10.6},{"s":"rain","h":0.8,"v":10.0},{"s":"rain","h":0.6,"v":10.6},{"s":"rain","h":0.4,"v":11.6},{"s":"rain","h":0.3,"v":12.8},
{"s":"ice","h":11,"v":0.1},{"s":"ice","h":10,"v":0.3},{"s":"ice","h":9,"v":0.3},{"s":"ice","h":7,"v":0.2},{"s":"ice","h":6,"v":0.1},{"s":"ice","h":5,"v":0},
{"s":"snow","h":11.5,"v":0.2},{"s":"snow","h":11,"v":0.5},{"s":"snow","h":10.5,"v":0.8},{"s":"snow","h":10,"v":1.1},{"s":"snow","h":9.5,"v":1.2},{"s":"snow","h":9,"v":1.1},{"s":"snow","h":8.5,"v":0.9},{"s":"snow","h":8,"v":0.8},{"s":"snow","h":7.5,"v":0.6},{"s":"snow","h":7,"v":0.4},{"s":"snow","h":6,"v":0.3},{"s":"snow","h":5,"v":0.1},{"s":"snow","h":4.2,"v":0},
{"s":"graupel","h":11.3,"v":0.3},{"s":"graupel","h":10.5,"v":0.8},{"s":"graupel","h":10,"v":1.3},{"s":"graupel","h":9.5,"v":2.8},{"s":"graupel","h":9,"v":3.9},{"s":"graupel","h":8.5,"v":4.5},{"s":"graupel","h":8,"v":5.0},{"s":"graupel","h":7.5,"v":5.3},{"s":"graupel","h":7,"v":5.7},{"s":"graupel","h":6.5,"v":7.2},{"s":"graupel","h":6,"v":9.5},{"s":"graupel","h":5.7,"v":11.8},{"s":"graupel","h":5.5,"v":11.4},{"s":"graupel","h":5.3,"v":10.8},{"s":"graupel","h":5.0,"v":8.0},{"s":"graupel","h":4.8,"v":5.2},{"s":"graupel","h":4.5,"v":3.5},{"s":"graupel","h":4.2,"v":2.1},{"s":"graupel","h":4.0,"v":1.9},{"s":"graupel","h":3.5,"v":2.0},{"s":"graupel","h":3.0,"v":2.1},{"s":"graupel","h":2.7,"v":2.5},{"s":"graupel","h":2.5,"v":2.9},{"s":"graupel","h":2.3,"v":2.0},{"s":"graupel","h":2.0,"v":1.2},{"s":"graupel","h":1.5,"v":0.7},{"s":"graupel","h":1.0,"v":0.4},{"s":"graupel","h":0.5,"v":0.2},
{"s":"hail","h":12,"v":0},{"s":"hail","h":0.2,"v":0},
{"s":"sum","h":14,"v":0},{"s":"sum","h":13,"v":0.1},{"s":"sum","h":12,"v":0.3},{"s":"sum","h":11.5,"v":0.6},{"s":"sum","h":11,"v":1.0},{"s":"sum","h":10.5,"v":1.5},{"s":"sum","h":10,"v":2.2},{"s":"sum","h":9.5,"v":3.2},{"s":"sum","h":9,"v":4.3},{"s":"sum","h":8.5,"v":5.1},{"s":"sum","h":8,"v":5.7},{"s":"sum","h":7.5,"v":6.0},{"s":"sum","h":7,"v":6.6},{"s":"sum","h":6.5,"v":8.1},{"s":"sum","h":6,"v":10.5},{"s":"sum","h":5.7,"v":12.3},{"s":"sum","h":5.5,"v":12.3},{"s":"sum","h":5.3,"v":11.5},{"s":"sum","h":5.0,"v":9.6},{"s":"sum","h":4.7,"v":7.3},{"s":"sum","h":4.4,"v":5.9},{"s":"sum","h":4.0,"v":4.9},{"s":"sum","h":3.6,"v":5.1},{"s":"sum","h":3.3,"v":6.0},{"s":"sum","h":3.0,"v":7.5},{"s":"sum","h":2.7,"v":9.0},{"s":"sum","h":2.5,"v":11.5},{"s":"sum","h":2.3,"v":11.2},{"s":"sum","h":2.1,"v":10.0},{"s":"sum","h":1.9,"v":11.5},{"s":"sum","h":1.6,"v":14.2},{"s":"sum","h":1.4,"v":15.9},{"s":"sum","h":1.2,"v":13.0},{"s":"sum","h":1.0,"v":11.0},{"s":"sum","h":0.8,"v":10.4},{"s":"sum","h":0.6,"v":11.0},{"s":"sum","h":0.4,"v":12.0},{"s":"sum","h":0.3,"v":13.2}
],
"g2": [
{"s":"rain","h":6.8,"v":0},{"s":"rain","h":6.2,"v":0.2},{"s":"rain","h":5.8,"v":0.8},{"s":"rain","h":5.5,"v":0.6},{"s":"rain","h":5.2,"v":1.3},{"s":"rain","h":4.9,"v":2.5},{"s":"rain","h":4.6,"v":3.3},{"s":"rain","h":4.3,"v":3.9},{"s":"rain","h":4.0,"v":3.5},{"s":"rain","h":3.8,"v":3.7},{"s":"rain","h":3.5,"v":4.6},{"s":"rain","h":3.2,"v":5.8},{"s":"rain","h":3.0,"v":6.9},{"s":"rain","h":2.8,"v":7.8},{"s":"rain","h":2.6,"v":9.5},{"s":"rain","h":2.4,"v":12.0},{"s":"rain","h":2.2,"v":14.0},{"s":"rain","h":2.0,"v":15.5},{"s":"rain","h":1.9,"v":15.3},{"s":"rain","h":1.7,"v":11.7},{"s":"rain","h":1.5,"v":8.3},{"s":"rain","h":1.2,"v":6.3},{"s":"rain","h":1.0,"v":5.9},{"s":"rain","h":0.8,"v":6.3},{"s":"rain","h":0.5,"v":7.7},{"s":"rain","h":0.3,"v":8.7},
{"s":"ice","h":11,"v":0.5},{"s":"ice","h":10,"v":1.1},{"s":"ice","h":9.5,"v":1.3},{"s":"ice","h":9,"v":1.4},{"s":"ice","h":8.5,"v":1.3},{"s":"ice","h":8,"v":1.1},{"s":"ice","h":7,"v":0.8},{"s":"ice","h":6,"v":0.6},{"s":"ice","h":5,"v":0.4},{"s":"ice","h":4,"v":0.3},{"s":"ice","h":3,"v":0.2},{"s":"ice","h":2.3,"v":0.1},
{"s":"snow","h":11.5,"v":0.1},{"s":"snow","h":11,"v":0.8},{"s":"snow","h":10.5,"v":1.9},{"s":"snow","h":10,"v":3.2},{"s":"snow","h":9.5,"v":5.0},{"s":"snow","h":9,"v":7.2},{"s":"snow","h":8.5,"v":8.9},{"s":"snow","h":8,"v":9.8},{"s":"snow","h":7.7,"v":10.1},{"s":"snow","h":7.3,"v":9.6},{"s":"snow","h":7,"v":8.9},{"s":"snow","h":6.5,"v":7.6},{"s":"snow","h":6,"v":6.6},{"s":"snow","h":5.5,"v":6.0},{"s":"snow","h":5.0,"v":5.4},{"s":"snow","h":4.6,"v":4.6},{"s":"snow","h":4.2,"v":3.5},{"s":"snow","h":4.0,"v":3.1},{"s":"snow","h":3.5,"v":3.2},{"s":"snow","h":3.0,"v":3.1},{"s":"snow","h":2.7,"v":2.6},{"s":"snow","h":2.5,"v":1.2},{"s":"snow","h":2.3,"v":0.4},{"s":"snow","h":2.0,"v":0.1},
{"s":"graupel","h":10.5,"v":0.3},{"s":"graupel","h":10,"v":0.8},{"s":"graupel","h":9.5,"v":1.6},{"s":"graupel","h":9,"v":2.6},{"s":"graupel","h":8.5,"v":3.3},{"s":"graupel","h":8,"v":4.0},{"s":"graupel","h":7.5,"v":4.6},{"s":"graupel","h":7,"v":5.0},{"s":"graupel","h":6.5,"v":5.4},{"s":"graupel","h":6,"v":6.0},{"s":"graupel","h":5.5,"v":6.6},{"s":"graupel","h":5,"v":5.7},{"s":"graupel","h":4.6,"v":4.5},{"s":"graupel","h":4.2,"v":4.0},{"s":"graupel","h":3.8,"v":4.3},{"s":"graupel","h":3.5,"v":5.4},{"s":"graupel","h":3.2,"v":6.6},{"s":"graupel","h":3.0,"v":7.5},{"s":"graupel","h":2.8,"v":7.2},{"s":"graupel","h":2.6,"v":5.0},{"s":"graupel","h":2.4,"v":2.5},{"s":"graupel","h":2.2,"v":0.9},{"s":"graupel","h":2.0,"v":0.3},{"s":"graupel","h":1.8,"v":0.1},
{"s":"hail","h":12,"v":0},{"s":"hail","h":0.2,"v":0},
{"s":"sum","h":14,"v":0},{"s":"sum","h":13,"v":0.2},{"s":"sum","h":12.5,"v":0.4},{"s":"sum","h":12,"v":0.6},{"s":"sum","h":11.5,"v":1.0},{"s":"sum","h":11,"v":1.8},{"s":"sum","h":10.5,"v":3.2},{"s":"sum","h":10,"v":4.8},{"s":"sum","h":9.5,"v":6.5},{"s":"sum","h":9,"v":8.6},{"s":"sum","h":8.5,"v":10.8},{"s":"sum","h":8,"v":12.5},{"s":"sum","h":7.5,"v":13.5},{"s":"sum","h":7,"v":13.6},{"s":"sum","h":6.5,"v":13.1},{"s":"sum","h":6,"v":13.0},{"s":"sum","h":5.5,"v":13.4},{"s":"sum","h":5,"v":13.1},{"s":"sum","h":4.6,"v":12.0},{"s":"sum","h":4.3,"v":11.0},{"s":"sum","h":4.0,"v":10.7},{"s":"sum","h":3.7,"v":11.1},{"s":"sum","h":3.3,"v":13.5},{"s":"sum","h":3.0,"v":15.2},{"s":"sum","h":2.7,"v":16.5},{"s":"sum","h":2.5,"v":14.5},{"s":"sum","h":2.3,"v":13.1},{"s":"sum","h":2.1,"v":14.3},{"s":"sum","h":1.9,"v":17.0},{"s":"sum","h":1.7,"v":13.5},{"s":"sum","h":1.5,"v":8.5},{"s":"sum","h":1.2,"v":6.4},{"s":"sum","h":1.0,"v":6.0},{"s":"sum","h":0.8,"v":6.4},{"s":"sum","h":0.5,"v":7.8},{"s":"sum","h":0.3,"v":8.8}
],
"g3": [
{"s":"rain","h":5.6,"v":0},{"s":"rain","h":5.3,"v":0.6},{"s":"rain","h":5.0,"v":1.9},{"s":"rain","h":4.7,"v":3.6},{"s":"rain","h":4.4,"v":5.7},{"s":"rain","h":4.1,"v":8.2},{"s":"rain","h":3.8,"v":11.0},{"s":"rain","h":3.5,"v":13.7},{"s":"rain","h":3.2,"v":16.2},{"s":"rain","h":3.0,"v":16.5},{"s":"rain","h":2.8,"v":17.3},{"s":"rain","h":2.6,"v":15.0},{"s":"rain","h":2.4,"v":13.0},{"s":"rain","h":2.2,"v":13.0},{"s":"rain","h":2.0,"v":14.5},{"s":"rain","h":1.8,"v":17.3},{"s":"rain","h":1.6,"v":19.8},{"s":"rain","h":1.4,"v":20.3},{"s":"rain","h":1.2,"v":16.8},{"s":"rain","h":1.0,"v":12.3},{"s":"rain","h":0.8,"v":9.8},{"s":"rain","h":0.6,"v":8.1},{"s":"rain","h":0.4,"v":6.3},{"s":"rain","h":0.3,"v":5.1},
{"s":"ice","h":12.3,"v":0.3},{"s":"ice","h":12,"v":0.6},{"s":"ice","h":11.5,"v":1.2},{"s":"ice","h":11,"v":2.0},{"s":"ice","h":10.5,"v":3.2},{"s":"ice","h":10,"v":4.4},{"s":"ice","h":9.5,"v":5.4},{"s":"ice","h":9,"v":5.9},{"s":"ice","h":8.5,"v":6.1},{"s":"ice","h":8,"v":5.8},{"s":"ice","h":7.5,"v":5.6},{"s":"ice","h":7,"v":5.5},{"s":"ice","h":6.6,"v":4.9},{"s":"ice","h":6.2,"v":3.8},{"s":"ice","h":5.8,"v":2.6},{"s":"ice","h":5.4,"v":1.5},{"s":"ice","h":5.0,"v":0.9},{"s":"ice","h":4.5,"v":0.7},{"s":"ice","h":4.0,"v":0.5},{"s":"ice","h":3.0,"v":0.3},{"s":"ice","h":2.0,"v":0.2},{"s":"ice","h":1.0,"v":0.1},
{"s":"snow","h":12,"v":0.4},{"s":"snow","h":11.5,"v":1.5},{"s":"snow","h":11,"v":4.0},{"s":"snow","h":10.5,"v":9.0},{"s":"snow","h":10,"v":14.5},{"s":"snow","h":9.5,"v":20.0},{"s":"snow","h":9,"v":26.5},{"s":"snow","h":8.5,"v":34.0},{"s":"snow","h":8,"v":40.0},{"s":"snow","h":7.7,"v":43.5},{"s":"snow","h":7.5,"v":44.5},{"s":"snow","h":7.2,"v":45.5},{"s":"snow","h":6.9,"v":44.0},{"s":"snow","h":6.6,"v":43.5},{"s":"snow","h":6.3,"v":38.0},{"s":"snow","h":6.0,"v":32.0},{"s":"snow","h":5.7,"v":28.0},{"s":"snow","h":5.4,"v":24.5},{"s":"snow","h":5.1,"v":22.0},{"s":"snow","h":4.9,"v":17.0},{"s":"snow","h":4.6,"v":11.0},{"s":"snow","h":4.3,"v":7.0},{"s":"snow","h":4.0,"v":4.3},{"s":"snow","h":3.7,"v":3.0},{"s":"snow","h":3.3,"v":2.2},{"s":"snow","h":3.0,"v":1.8},{"s":"snow","h":2.5,"v":1.2},{"s":"snow","h":2.0,"v":0.8},{"s":"snow","h":1.5,"v":0.3},{"s":"snow","h":1.0,"v":0.1},
{"s":"graupel","h":10.8,"v":0.4},{"s":"graupel","h":10.3,"v":1.0},{"s":"graupel","h":10,"v":1.4},{"s":"graupel","h":9.5,"v":2.3},{"s":"graupel","h":9,"v":3.5},{"s":"graupel","h":8.5,"v":4.9},{"s":"graupel","h":8,"v":6.3},{"s":"graupel","h":7.5,"v":7.6},{"s":"graupel","h":7,"v":8.9},{"s":"graupel","h":6.6,"v":9.4},{"s":"graupel","h":6.3,"v":9.8},{"s":"graupel","h":6.0,"v":9.3},{"s":"graupel","h":5.7,"v":9.0},{"s":"graupel","h":5.4,"v":8.6},{"s":"graupel","h":5.1,"v":7.6},{"s":"graupel","h":4.8,"v":5.7},{"s":"graupel","h":4.5,"v":4.2},{"s":"graupel","h":4.2,"v":3.0},{"s":"graupel","h":3.9,"v":1.8},{"s":"graupel","h":3.6,"v":0.8},{"s":"graupel","h":3.3,"v":0.4},{"s":"graupel","h":3.0,"v":0.2},
{"s":"hail","h":9,"v":0.3},{"s":"hail","h":8.5,"v":0.6},{"s":"hail","h":8,"v":0.9},{"s":"hail","h":7,"v":1.3},{"s":"hail","h":6,"v":1.6},{"s":"hail","h":5,"v":1.5},{"s":"hail","h":4.5,"v":1.2},{"s":"hail","h":4,"v":0.8},{"s":"hail","h":3.5,"v":0.4},{"s":"hail","h":3,"v":0.1},
{"s":"sum","h":14,"v":0},{"s":"sum","h":13,"v":0.3},{"s":"sum","h":12.5,"v":0.5},{"s":"sum","h":12,"v":1.0},{"s":"sum","h":11.5,"v":2.2},{"s":"sum","h":11,"v":5.0},{"s":"sum","h":10.5,"v":11.0},{"s":"sum","h":10,"v":18.0},{"s":"sum","h":9.5,"v":24.0},{"s":"sum","h":9,"v":30.5},{"s":"sum","h":8.5,"v":39.0},{"s":"sum","h":8,"v":48.5},{"s":"sum","h":7.7,"v":53.5},{"s":"sum","h":7.4,"v":57.5},{"s":"sum","h":7.2,"v":59.0},{"s":"sum","h":7.0,"v":60.0},{"s":"sum","h":6.8,"v":59.5},{"s":"sum","h":6.5,"v":56.0},{"s":"sum","h":6.2,"v":50.5},{"s":"sum","h":6.0,"v":46.0},{"s":"sum","h":5.7,"v":40.0},{"s":"sum","h":5.4,"v":33.0},{"s":"sum","h":5.0,"v":25.0},{"s":"sum","h":4.7,"v":20.5},{"s":"sum","h":4.4,"v":18.0},{"s":"sum","h":4.1,"v":16.3},{"s":"sum","h":3.8,"v":16.5},{"s":"sum","h":3.5,"v":17.2},{"s":"sum","h":3.2,"v":20.0},{"s":"sum","h":3.0,"v":21.3},{"s":"sum","h":2.8,"v":19.8},{"s":"sum","h":2.6,"v":17.5},{"s":"sum","h":2.4,"v":15.5},{"s":"sum","h":2.2,"v":15.0},{"s":"sum","h":2.0,"v":15.5},{"s":"sum","h":1.8,"v":17.5},{"s":"sum","h":1.6,"v":20.0},{"s":"sum","h":1.4,"v":20.5},{"s":"sum","h":1.2,"v":17.0},{"s":"sum","h":1.0,"v":12.5},{"s":"sum","h":0.8,"v":10.0},{"s":"sum","h":0.6,"v":8.3},{"s":"sum","h":0.4,"v":6.5},{"s":"sum","h":0.3,"v":5.3}
],
"g4": [
{"s":"rain","h":5.1,"v":0},{"s":"rain","h":4.8,"v":0.9},{"s":"rain","h":4.5,"v":2.1},{"s":"rain","h":4.2,"v":3.4},{"s":"rain","h":3.9,"v":3.6},{"s":"rain","h":3.6,"v":3.9},{"s":"rain","h":3.3,"v":4.4},{"s":"rain","h":3.0,"v":6.0},{"s":"rain","h":2.7,"v":8.5},{"s":"rain","h":2.4,"v":10.5},{"s":"rain","h":2.1,"v":13.0},{"s":"rain","h":1.9,"v":15.0},{"s":"rain","h":1.7,"v":19.0},{"s":"rain","h":1.6,"v":18.8},{"s":"rain","h":1.4,"v":15.5},{"s":"rain","h":1.2,"v":13.0},{"s":"rain","h":1.0,"v":10.5},{"s":"rain","h":0.8,"v":9.0},{"s":"rain","h":0.6,"v":7.4},{"s":"rain","h":0.4,"v":6.2},{"s":"rain","h":0.3,"v":5.5},
{"s":"ice","h":12,"v":0},{"s":"ice","h":0.2,"v":0},
{"s":"snow","h":12,"v":0.3},{"s":"snow","h":11.5,"v":0.8},{"s":"snow","h":11,"v":1.7},{"s":"snow","h":10.5,"v":3.4},{"s":"snow","h":10,"v":5.8},{"s":"snow","h":9.5,"v":9.0},{"s":"snow","h":9,"v":13.2},{"s":"snow","h":8.5,"v":18.8},{"s":"snow","h":8,"v":25.5},{"s":"snow","h":7.6,"v":31.5},{"s":"snow","h":7.3,"v":35.0},{"s":"snow","h":7.0,"v":38.3},{"s":"snow","h":6.8,"v":40.0},{"s":"snow","h":6.6,"v":39.3},{"s":"snow","h":6.3,"v":36.5},{"s":"snow","h":6.0,"v":31.5},{"s":"snow","h":5.6,"v":27.0},{"s":"snow","h":5.2,"v":24.0},{"s":"snow","h":5.0,"v":21.5},{"s":"snow","h":4.8,"v":18.5},{"s":"snow","h":4.6,"v":15.5},{"s":"snow","h":4.4,"v":12.5},{"s":"snow","h":4.2,"v":11.0},{"s":"snow","h":3.9,"v":10.5},{"s":"snow","h":3.7,"v":10.0},{"s":"snow","h":3.4,"v":9.0},{"s":"snow","h":3.1,"v":8.0},{"s":"snow","h":2.8,"v":6.0},{"s":"snow","h":2.5,"v":4.3},{"s":"snow","h":2.2,"v":3.0},{"s":"snow","h":1.9,"v":2.0},{"s":"snow","h":1.6,"v":1.4},{"s":"snow","h":1.2,"v":0.8},{"s":"snow","h":0.8,"v":0.4},{"s":"snow","h":0.3,"v":0.2},
{"s":"graupel","h":9.5,"v":0.1},{"s":"graupel","h":8,"v":0.2},{"s":"graupel","h":7,"v":0.4},{"s":"graupel","h":6.5,"v":1.2},{"s":"graupel","h":6,"v":2.4},{"s":"graupel","h":5.5,"v":3.5},{"s":"graupel","h":5.1,"v":4.2},{"s":"graupel","h":4.8,"v":4.5},{"s":"graupel","h":4.5,"v":3.2},{"s":"graupel","h":4.2,"v":2.0},{"s":"graupel","h":3.9,"v":1.3},{"s":"graupel","h":3.5,"v":1.2},{"s":"graupel","h":3.0,"v":1.5},{"s":"graupel","h":2.6,"v":1.3},{"s":"graupel","h":2.2,"v":0.6},{"s":"graupel","h":1.8,"v":0.3},{"s":"graupel","h":1.2,"v":0.2},{"s":"graupel","h":0.5,"v":0.1},
{"s":"hail","h":12,"v":0},{"s":"hail","h":0.2,"v":0},
{"s":"sum","h":14,"v":0.1},{"s":"sum","h":13,"v":0.2},{"s":"sum","h":12.5,"v":0.3},{"s":"sum","h":12,"v":0.5},{"s":"sum","h":11.5,"v":1.0},{"s":"sum","h":11,"v":2.0},{"s":"sum","h":10.5,"v":3.8},{"s":"sum","h":10,"v":6.3},{"s":"sum","h":9.5,"v":9.5},{"s":"sum","h":9,"v":13.8},{"s":"sum","h":8.5,"v":19.5},{"s":"sum","h":8,"v":26.5},{"s":"sum","h":7.6,"v":32.5},{"s":"sum","h":7.3,"v":36.0},{"s":"sum","h":7.0,"v":39.0},{"s":"sum","h":6.8,"v":40.3},{"s":"sum","h":6.6,"v":40.0},{"s":"sum","h":6.3,"v":38.5},{"s":"sum","h":6.0,"v":35.5},{"s":"sum","h":5.6,"v":31.5},{"s":"sum","h":5.2,"v":28.0},{"s":"sum","h":4.8,"v":24.0},{"s":"sum","h":4.4,"v":20.0},{"s":"sum","h":4.2,"v":17.4},{"s":"sum","h":4.0,"v":15.5},{"s":"sum","h":3.8,"v":14.6},{"s":"sum","h":3.5,"v":14.3},{"s":"sum","h":3.2,"v":14.6},{"s":"sum","h":2.8,"v":15.0},{"s":"sum","h":2.4,"v":14.6},{"s":"sum","h":2.1,"v":15.5},{"s":"sum","h":1.9,"v":19.5},{"s":"sum","h":1.7,"v":21.5},{"s":"sum","h":1.5,"v":19.5},{"s":"sum","h":1.3,"v":16.5},{"s":"sum","h":1.1,"v":13.5},{"s":"sum","h":0.9,"v":10.5},{"s":"sum","h":0.7,"v":8.3},{"s":"sum","h":0.5,"v":7.0},{"s":"sum","h":0.3,"v":5.7}
],
"g5": [
{"s":"rain","h":5.7,"v":0.3},{"s":"rain","h":5.4,"v":1.1},{"s":"rain","h":5.0,"v":3.3},{"s":"rain","h":4.7,"v":6.5},{"s":"rain","h":4.4,"v":9.0},{"s":"rain","h":4.2,"v":10.0},{"s":"rain","h":4.0,"v":10.0},{"s":"rain","h":3.8,"v":11.0},{"s":"rain","h":3.6,"v":12.5},{"s":"rain","h":3.3,"v":13.8},{"s":"rain","h":3.1,"v":14.5},{"s":"rain","h":3.0,"v":16.2},{"s":"rain","h":2.8,"v":14.0},{"s":"rain","h":2.6,"v":15.5},{"s":"rain","h":2.4,"v":13.5},{"s":"rain","h":2.2,"v":14.0},{"s":"rain","h":2.0,"v":15.3},{"s":"rain","h":1.8,"v":15.8},{"s":"rain","h":1.65,"v":17.6},{"s":"rain","h":1.5,"v":20.2},{"s":"rain","h":1.35,"v":18.3},{"s":"rain","h":1.2,"v":14.1},{"s":"rain","h":1.05,"v":9.9},{"s":"rain","h":0.75,"v":7.9},{"s":"rain","h":0.45,"v":7.2},{"s":"rain","h":0.25,"v":7.9},
{"s":"ice","h":12,"v":0.6},{"s":"ice","h":10,"v":0.6},{"s":"ice","h":8,"v":0.6},{"s":"ice","h":6,"v":0.6},{"s":"ice","h":4,"v":0.5},{"s":"ice","h":3,"v":0.4},
{"s":"snow","h":12.3,"v":0.1},{"s":"snow","h":12,"v":0.5},{"s":"snow","h":11.5,"v":1.4},{"s":"snow","h":11,"v":3.8},{"s":"snow","h":10.5,"v":7.0},{"s":"snow","h":10,"v":10.2},{"s":"snow","h":9.5,"v":13.2},{"s":"snow","h":9,"v":16.0},{"s":"snow","h":8.5,"v":19.5},{"s":"snow","h":8,"v":24.5},{"s":"snow","h":7.7,"v":28.0},{"s":"snow","h":7.4,"v":30.5},{"s":"snow","h":7.1,"v":32.0},{"s":"snow","h":6.8,"v":33.0},{"s":"snow","h":6.5,"v":32.5},{"s":"snow","h":6.2,"v":30.5},{"s":"snow","h":5.9,"v":27.0},{"s":"snow","h":5.6,"v":23.5},{"s":"snow","h":5.3,"v":21.5},{"s":"snow","h":5.0,"v":19.0},{"s":"snow","h":4.8,"v":14.0},{"s":"snow","h":4.6,"v":11.0},{"s":"snow","h":4.3,"v":8.5},{"s":"snow","h":4.0,"v":6.0},{"s":"snow","h":3.7,"v":4.5},{"s":"snow","h":3.4,"v":3.6},{"s":"snow","h":3.1,"v":2.8},{"s":"snow","h":2.8,"v":2.0},{"s":"snow","h":2.5,"v":1.2},{"s":"snow","h":2.2,"v":0.8},{"s":"snow","h":1.8,"v":0.5},{"s":"snow","h":1.0,"v":0.3},{"s":"snow","h":0.3,"v":0.2},
{"s":"graupel","h":9.7,"v":0.3},{"s":"graupel","h":9.2,"v":0.8},{"s":"graupel","h":8.8,"v":2.0},{"s":"graupel","h":8.5,"v":3.0},{"s":"graupel","h":8,"v":4.8},{"s":"graupel","h":7.5,"v":6.8},{"s":"graupel","h":7,"v":8.7},{"s":"graupel","h":6.5,"v":10.2},{"s":"graupel","h":6.2,"v":11.5},{"s":"graupel","h":6.0,"v":13.2},{"s":"graupel","h":5.8,"v":14.0},{"s":"graupel","h":5.5,"v":14.5},{"s":"graupel","h":5.3,"v":13.8},{"s":"graupel","h":5.1,"v":12.5},{"s":"graupel","h":4.9,"v":11.0},{"s":"graupel","h":4.7,"v":9.0},{"s":"graupel","h":4.5,"v":7.0},{"s":"graupel","h":4.2,"v":4.8},{"s":"graupel","h":4.0,"v":3.5},{"s":"graupel","h":3.7,"v":2.3},{"s":"graupel","h":3.4,"v":1.4},{"s":"graupel","h":3.1,"v":0.8},{"s":"graupel","h":2.8,"v":0.4},{"s":"graupel","h":2.5,"v":0.2},
{"s":"hail","h":12,"v":0},{"s":"hail","h":0.2,"v":0},
{"s":"sum","h":14,"v":0},{"s":"sum","h":13,"v":0.2},{"s":"sum","h":12.5,"v":0.4},{"s":"sum","h":12,"v":0.6},{"s":"sum","h":11.5,"v":1.5},{"s":"sum","h":11,"v":4.0},{"s":"sum","h":10.5,"v":7.0},{"s":"sum","h":10,"v":10.5},{"s":"sum","h":9.5,"v":14.0},{"s":"sum","h":9,"v":17.5},{"s":"sum","h":8.5,"v":22.5},{"s":"sum","h":8,"v":29.0},{"s":"sum","h":7.7,"v":33.5},{"s":"sum","h":7.4,"v":37.5},{"s":"sum","h":7.1,"v":40.5},{"s":"sum","h":6.8,"v":42.5},{"s":"sum","h":6.5,"v":43.0},{"s":"sum","h":6.0,"v":42.8},{"s":"sum","h":5.5,"v":41.0},{"s":"sum","h":5.2,"v":38.5},{"s":"sum","h":4.8,"v":35.0},{"s":"sum","h":4.4,"v":28.5},{"s":"sum","h":4.1,"v":25.0},{"s":"sum","h":3.9,"v":21.2},{"s":"sum","h":3.6,"v":19.9},{"s":"sum","h":3.3,"v":20.2},{"s":"sum","h":3.15,"v":19.2},{"s":"sum","h":2.9,"v":20.6},{"s":"sum","h":2.7,"v":17.8},{"s":"sum","h":2.4,"v":16.0},{"s":"sum","h":2.1,"v":15.4},{"s":"sum","h":1.8,"v":16.0},{"s":"sum","h":1.65,"v":17.8},{"s":"sum","h":1.5,"v":20.4},{"s":"sum","h":1.35,"v":18.5},{"s":"sum","h":1.2,"v":14.3},{"s":"sum","h":1.05,"v":10.1},{"s":"sum","h":0.75,"v":8.1},{"s":"sum","h":0.45,"v":7.4},{"s":"sum","h":0.25,"v":8.1}
]
},
"columns": 5,
"spacing": {"row": 199, "column": 152},
"bounds": "flush",
"resolve": {"scale": {"x": "independent", "color": "independent", "strokeWidth": "independent"}, "legend": {"color": "independent", "strokeWidth": "independent"}},
"concat": [
{"width": 448, "height": 1072, "title": {"text": "ERA5_PurdueLin", "dx": 32, "offset": 10},
 "encoding": {
  "x": {"field": "v", "type": "quantitative", "scale": {"domain": [0, 34.9], "nice": false}, "axis": {"title": null, "values": [0,2,4,6,8,10,12,14,16,18,20,22,24,26,28,30,32,34], "labelExpr": "datum.value % 10 === 0 ? datum.label : ''", "tickSize": {"condition": {"test": "datum.value % 10 === 0", "value": 17}, "value": 10}}},
  "y": {"field": "h", "type": "quantitative", "scale": {"domain": [0, 20.31], "nice": false}, "axis": {"values": [0,2.5,5,7.5,10,12.5,15,17.5,20], "format": ".1f", "title": "Height (km)", "titleX": -139, "titleY": 488, "titleAlign": "center", "titleBaseline": "alphabetic", "titleAngle": -90}},
  "color": {"field": "s", "type": "nominal", "scale": {"domain": ["PAZ obs","rain","ice","snow","graupel","hail","sum"], "range": ["#000000","#0000ff","#008000","#ff0000","#ffa500","#8b4513","#87ceeb"]}, "legend": {"title": null}},
  "strokeWidth": {"field": "s", "type": "nominal", "scale": {"type": "ordinal", "domain": ["PAZ obs","rain","ice","snow","graupel","hail","sum"], "range": [7,2,2,2,2,2,7]}, "legend": {"title": null}},
  "order": {"field": "h", "type": "quantitative"}},
 "layer": [{"data": {"name": "obs"}, "mark": {"type": "line", "clip": true}}, {"data": {"name": "e1"}, "mark": {"type": "line", "clip": true}}]},
{"width": 448, "height": 1072, "title": {"text": "ERA5_WSM6", "dx": 54, "offset": 10},
 "encoding": {
  "x": {"field": "v", "type": "quantitative", "scale": {"domain": [0, 34.9], "nice": false}, "axis": {"title": null, "values": [0,2,4,6,8,10,12,14,16,18,20,22,24,26,28,30,32,34], "labelExpr": "datum.value % 10 === 0 ? datum.label : ''", "tickSize": {"condition": {"test": "datum.value % 10 === 0", "value": 17}, "value": 10}}},
  "y": {"field": "h", "type": "quantitative", "scale": {"domain": [0, 20.31], "nice": false}, "axis": {"values": [0,2.5,5,7.5,10,12.5,15,17.5,20], "format": ".1f", "title": null}},
  "color": {"field": "s", "type": "nominal", "scale": {"domain": ["PAZ obs","rain","ice","snow","graupel","hail","sum"], "range": ["#000000","#0000ff","#008000","#ff0000","#ffa500","#8b4513","#87ceeb"]}, "legend": {"title": null}},
  "strokeWidth": {"field": "s", "type": "nominal", "scale": {"type": "ordinal", "domain": ["PAZ obs","rain","ice","snow","graupel","hail","sum"], "range": [7,2,2,2,2,2,7]}, "legend": {"title": null}},
  "order": {"field": "h", "type": "quantitative"}},
 "layer": [{"data": {"name": "obs"}, "mark": {"type": "line", "clip": true}}, {"data": {"name": "e2"}, "mark": {"type": "line", "clip": true}}]},
{"width": 448, "height": 1072, "title": {"text": "ERA5_Gaddard", "dx": 34, "offset": 10},
 "encoding": {
  "x": {"field": "v", "type": "quantitative", "scale": {"domain": [0, 36.8], "nice": false}, "axis": {"title": null, "values": [0,2,4,6,8,10,12,14,16,18,20,22,24,26,28,30,32,34,36], "labelExpr": "datum.value % 10 === 0 ? datum.label : ''", "tickSize": {"condition": {"test": "datum.value % 10 === 0", "value": 17}, "value": 10}}},
  "y": {"field": "h", "type": "quantitative", "scale": {"domain": [0, 20.31], "nice": false}, "axis": {"values": [0,2.5,5,7.5,10,12.5,15,17.5,20], "format": ".1f", "title": null}},
  "color": {"field": "s", "type": "nominal", "scale": {"domain": ["PAZ obs","rain","ice","snow","graupel","hail","sum"], "range": ["#000000","#0000ff","#008000","#ff0000","#ffa500","#8b4513","#87ceeb"]}, "legend": {"title": null}},
  "strokeWidth": {"field": "s", "type": "nominal", "scale": {"type": "ordinal", "domain": ["PAZ obs","rain","ice","snow","graupel","hail","sum"], "range": [7,2,2,2,2,2,7]}, "legend": {"title": null}},
  "order": {"field": "h", "type": "quantitative"}},
 "layer": [{"data": {"name": "obs"}, "mark": {"type": "line", "clip": true}}, {"data": {"name": "e3"}, "mark": {"type": "line", "clip": true}}]},
{"width": 448, "height": 1072, "title": {"text": "ERA5_Thompson", "dx": 46, "offset": 10},
 "encoding": {
  "x": {"field": "v", "type": "quantitative", "scale": {"domain": [0, 35.0], "nice": false}, "axis": {"title": null, "values": [0,2,4,6,8,10,12,14,16,18,20,22,24,26,28,30,32,34], "labelExpr": "datum.value % 10 === 0 ? datum.label : ''", "tickSize": {"condition": {"test": "datum.value % 10 === 0", "value": 17}, "value": 10}}},
  "y": {"field": "h", "type": "quantitative", "scale": {"domain": [0, 20.31], "nice": false}, "axis": {"values": [0,2.5,5,7.5,10,12.5,15,17.5,20], "format": ".1f", "title": null}},
  "color": {"field": "s", "type": "nominal", "scale": {"domain": ["PAZ obs","rain","ice","snow","graupel","hail","sum"], "range": ["#000000","#0000ff","#008000","#ff0000","#ffa500","#8b4513","#87ceeb"]}, "legend": {"title": null}},
  "strokeWidth": {"field": "s", "type": "nominal", "scale": {"type": "ordinal", "domain": ["PAZ obs","rain","ice","snow","graupel","hail","sum"], "range": [7,2,2,2,2,2,7]}, "legend": {"title": null}},
  "order": {"field": "h", "type": "quantitative"}},
 "layer": [{"data": {"name": "obs"}, "mark": {"type": "line", "clip": true}}, {"data": {"name": "e4"}, "mark": {"type": "line", "clip": true}}]},
{"width": 448, "height": 1072, "title": {"text": ["ERA5_Morriso", "n"], "dx": 28, "dy": 82, "offset": 10},
 "encoding": {
  "x": {"field": "v", "type": "quantitative", "scale": {"domain": [0, 34.9], "nice": false}, "axis": {"title": null, "values": [0,2,4,6,8,10,12,14,16,18,20,22,24,26,28,30,32,34], "labelExpr": "datum.value % 10 === 0 ? datum.label : ''", "tickSize": {"condition": {"test": "datum.value % 10 === 0", "value": 17}, "value": 10}}},
  "y": {"field": "h", "type": "quantitative", "scale": {"domain": [0, 20.31], "nice": false}, "axis": {"values": [0,2.5,5,7.5,10,12.5,15,17.5,20], "format": ".1f", "title": null}},
  "color": {"field": "s", "type": "nominal", "scale": {"domain": ["PAZ obs","rain","ice","snow","graupel","hail","sum"], "range": ["#000000","#0000ff","#008000","#ff0000","#ffa500","#8b4513","#87ceeb"]}, "legend": {"title": null}},
  "strokeWidth": {"field": "s", "type": "nominal", "scale": {"type": "ordinal", "domain": ["PAZ obs","rain","ice","snow","graupel","hail","sum"], "range": [7,2,2,2,2,2,7]}, "legend": {"title": null}},
  "order": {"field": "h", "type": "quantitative"}},
 "layer": [{"data": {"name": "obs"}, "mark": {"type": "line", "clip": true}}, {"data": {"name": "e5"}, "mark": {"type": "line", "clip": true}}]},
{"width": 448, "height": 1072, "title": {"text": "GDAS_PurdueLin", "dx": 22, "offset": 15},
 "encoding": {
  "x": {"field": "v", "type": "quantitative", "scale": {"domain": [0, 34.9], "nice": false}, "axis": {"title": null, "values": [0,2,4,6,8,10,12,14,16,18,20,22,24,26,28,30,32,34], "labelExpr": "datum.value % 10 === 0 ? datum.label : ''", "tickSize": {"condition": {"test": "datum.value % 10 === 0", "value": 17}, "value": 10}}},
  "y": {"field": "h", "type": "quantitative", "scale": {"domain": [0, 20.31], "nice": false}, "axis": {"values": [0,2.5,5,7.5,10,12.5,15,17.5,20], "format": ".1f", "title": "Height (km)", "titleX": -139, "titleY": 393, "titleAlign": "center", "titleBaseline": "alphabetic", "titleAngle": -90}},
  "color": {"field": "s", "type": "nominal", "scale": {"domain": ["PAZ obs","rain","ice","snow","graupel","hail","sum"], "range": ["#000000","#0000ff","#008000","#ff0000","#ffa500","#8b4513","#87ceeb"]}, "legend": {"title": null}},
  "strokeWidth": {"field": "s", "type": "nominal", "scale": {"type": "ordinal", "domain": ["PAZ obs","rain","ice","snow","graupel","hail","sum"], "range": [7,2,2,2,2,2,7]}, "legend": {"title": null}},
  "order": {"field": "h", "type": "quantitative"}},
 "layer": [{"data": {"name": "obs"}, "mark": {"type": "line", "clip": true}}, {"data": {"name": "g1"}, "mark": {"type": "line", "clip": true}}]},
{"width": 448, "height": 1072, "title": {"text": "GDAS", "dx": 30, "offset": 15},
 "encoding": {
  "x": {"field": "v", "type": "quantitative", "scale": {"domain": [0, 35.0], "nice": false}, "axis": {"title": null, "values": [0,2,4,6,8,10,12,14,16,18,20,22,24,26,28,30,32,34], "labelExpr": "datum.value % 10 === 0 ? datum.label : ''", "tickSize": {"condition": {"test": "datum.value % 10 === 0", "value": 17}, "value": 10}}},
  "y": {"field": "h", "type": "quantitative", "scale": {"domain": [0, 20.31], "nice": false}, "axis": {"values": [0,2.5,5,7.5,10,12.5,15,17.5,20], "format": ".1f", "title": null}},
  "color": {"field": "s", "type": "nominal", "scale": {"domain": ["PAZ obs","rain","ice","snow","graupel","hail","sum"], "range": ["#000000","#0000ff","#008000","#ff0000","#ffa500","#8b4513","#87ceeb"]}, "legend": {"title": null}},
  "strokeWidth": {"field": "s", "type": "nominal", "scale": {"type": "ordinal", "domain": ["PAZ obs","rain","ice","snow","graupel","hail","sum"], "range": [7,2,2,2,2,2,7]}, "legend": {"title": null}},
  "order": {"field": "h", "type": "quantitative"}},
 "layer": [{"data": {"name": "obs"}, "mark": {"type": "line", "clip": true}}, {"data": {"name": "g2"}, "mark": {"type": "line", "clip": true}}]},
{"width": 448, "height": 1072, "title": {"text": "GDAS", "dx": 29, "offset": 15},
 "encoding": {
  "x": {"field": "v", "type": "quantitative", "scale": {"domain": [0, 60.1], "nice": false}, "axis": {"title": null, "values": [0,1.6667,3.3333,5,6.6667,8.3333,10,11.6667,13.3333,15,16.6667,18.3333,20,21.6667,23.3333,25,26.6667,28.3333,30,31.6667,33.3333,35,36.6667,38.3333,40,41.6667,43.3333,45,46.6667,48.3333,50,51.6667,53.3333,55,56.6667,58.3333,60], "labelExpr": "datum.value % 10 === 0 ? datum.label : ''", "tickSize": {"condition": {"test": "datum.value % 10 === 0", "value": 17}, "value": 10}}},
  "y": {"field": "h", "type": "quantitative", "scale": {"domain": [0, 20.31], "nice": false}, "axis": {"values": [0,2.5,5,7.5,10,12.5,15,17.5,20], "format": ".1f", "title": null}},
  "color": {"field": "s", "type": "nominal", "scale": {"domain": ["PAZ obs","rain","ice","snow","graupel","hail","sum"], "range": ["#000000","#0000ff","#008000","#ff0000","#ffa500","#8b4513","#87ceeb"]}, "legend": {"title": null}},
  "strokeWidth": {"field": "s", "type": "nominal", "scale": {"type": "ordinal", "domain": ["PAZ obs","rain","ice","snow","graupel","hail","sum"], "range": [7,2,2,2,2,2,7]}, "legend": {"title": null}},
  "order": {"field": "h", "type": "quantitative"}},
 "layer": [{"data": {"name": "obs"}, "mark": {"type": "line", "clip": true}}, {"data": {"name": "g3"}, "mark": {"type": "line", "clip": true}}]},
{"width": 448, "height": 1072, "title": {"text": "GDAS", "dx": 9, "offset": 15},
 "encoding": {
  "x": {"field": "v", "type": "quantitative", "scale": {"domain": [0, 40.7], "nice": false}, "axis": {"title": null, "values": [0,2,4,6,8,10,12,14,16,18,20,22,24,26,28,30,32,34,36,38,40], "labelExpr": "datum.value % 10 === 0 ? datum.label : ''", "tickSize": {"condition": {"test": "datum.value % 10 === 0", "value": 17}, "value": 10}}},
  "y": {"field": "h", "type": "quantitative", "scale": {"domain": [0, 20.31], "nice": false}, "axis": {"values": [0,2.5,5,7.5,10,12.5,15,17.5,20], "format": ".1f", "title": null}},
  "color": {"field": "s", "type": "nominal", "scale": {"domain": ["PAZ obs","rain","ice","snow","graupel","hail","sum"], "range": ["#000000","#0000ff","#008000","#ff0000","#ffa500","#8b4513","#87ceeb"]}, "legend": {"title": null}},
  "strokeWidth": {"field": "s", "type": "nominal", "scale": {"type": "ordinal", "domain": ["PAZ obs","rain","ice","snow","graupel","hail","sum"], "range": [7,2,2,2,2,2,7]}, "legend": {"title": null}},
  "order": {"field": "h", "type": "quantitative"}},
 "layer": [{"data": {"name": "obs"}, "mark": {"type": "line", "clip": true}}, {"data": {"name": "g4"}, "mark": {"type": "line", "clip": true}}]},
{"width": 448, "height": 1072, "title": {"text": "GDAS _Morrison", "dx": 27, "offset": 15},
 "encoding": {
  "x": {"field": "v", "type": "quantitative", "scale": {"domain": [0, 43], "nice": false}, "axis": {"title": null, "values": [0,2,4,6,8,10,12,14,16,18,20,22,24,26,28,30,32,34,36,38,40,42], "labelExpr": "datum.value % 10 === 0 ? datum.label : ''", "tickSize": {"condition": {"test": "datum.value % 10 === 0", "value": 17}, "value": 10}}},
  "y": {"field": "h", "type": "quantitative", "scale": {"domain": [0, 20.31], "nice": false}, "axis": {"values": [0,2.5,5,7.5,10,12.5,15,17.5,20], "format": ".1f", "title": null}},
  "color": {"field": "s", "type": "nominal", "scale": {"domain": ["PAZ obs","rain","ice","snow","graupel","hail","sum"], "range": ["#000000","#0000ff","#008000","#ff0000","#ffa500","#8b4513","#87ceeb"]}, "legend": {"title": null}},
  "strokeWidth": {"field": "s", "type": "nominal", "scale": {"type": "ordinal", "domain": ["PAZ obs","rain","ice","snow","graupel","hail","sum"], "range": [7,2,2,2,2,2,7]}, "legend": {"title": null}},
  "order": {"field": "h", "type": "quantitative"}},
 "layer": [{"data": {"name": "obs"}, "mark": {"type": "line", "clip": true}}, {"data": {"name": "g5"}, "mark": {"type": "line", "clip": true}}]}
],
"config": {
 "view": {"stroke": "black", "strokeWidth": 2.5, "fill": "white"},
 "axis": {"grid": false, "domain": false, "labelFont": "DejaVu Sans", "labelFontSize": 42, "labelColor": "black", "tickColor": "black", "tickWidth": 2.5, "titleFont": "Lato", "titleFontSize": 69, "titleFontWeight": "normal", "titleColor": "black", "labelFlush": false, "labelOverlap": false, "labelBound": false},
 "axisY": {"tickSize": 15, "labelPadding": 18},
 "axisX": {"labelPadding": 24},
 "title": {"font": "Liberation Serif", "fontSize": 64, "fontWeight": "normal", "color": "black", "anchor": "start", "baseline": "alphabetic", "frame": "group", "lineHeight": 76},
 "legend": {"orient": "none", "legendX": 200, "legendY": 18, "padding": 10, "strokeColor": "#cccccc", "strokeWidth": 2, "cornerRadius": 6, "fillColor": "white", "labelFont": "DejaVu Sans", "labelFontSize": 29, "labelColor": "#1a1a1a", "symbolType": "M-1,0H5", "symbolSize": 499, "labelOffset": 60, "rowPadding": 19},
 "line": {"strokeJoin": "round", "strokeCap": "butt"}
}
}
